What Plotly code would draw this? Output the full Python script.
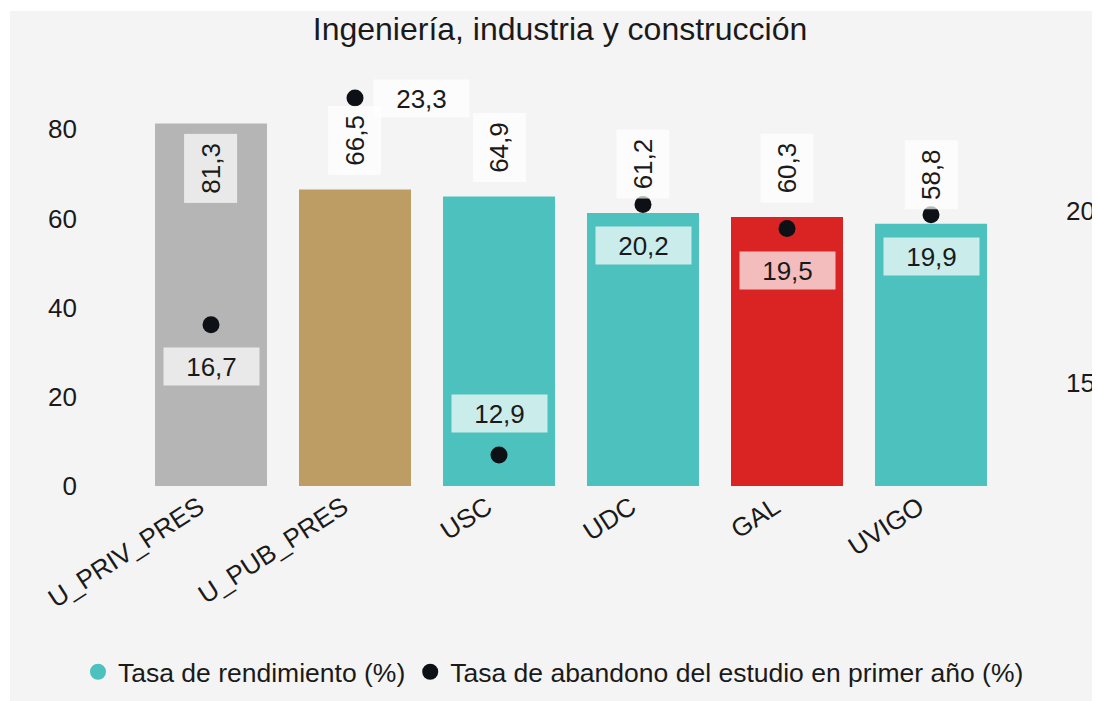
import plotly.graph_objects as go

# ---- data ----
categories = ["U_PRIV_PRES", "U_PUB_PRES", "USC", "UDC", "GAL", "UVIGO"]
rendimiento = [81.3, 66.5, 64.9, 61.2, 60.3, 58.8]
abandono = [16.7, 23.3, 12.9, 20.2, 19.5, 19.9]
bar_colors = ["#b5b5b5", "#be9d65", "#4dc1bd", "#4dc1bd", "#da2323", "#4dc1bd"]
series_names = ["Tasa de rendimiento (%)", "Tasa de abandono del estudio en primer año (%)"]
title_text = "Ingeniería, industria y construcción"

# label placement styles
bar_label_pos = ["inside", "above", "above", "above", "above", "above"]
dot_label_pos = ["below", "right", "above", "below", "below", "below"]

TEAL = "#4dc1bd"
DOT = "#0d1015"
TXT = "#1a1a1a"
BG = "#f4f4f4"
FONT = "Liberation Sans, Arial, sans-serif"
W, H = 1100, 701
ML, MR, MT, MB = 131, 105, 62, 223
PW, PH = W - ML - MR, H - MT - MB
LEFT_PPU = 4.46
RIGHT_PPU = 34.33


def fmt(v):
    return f"{v:.1f}".replace(".", ",")


def px_x(px):
    return (px - ML) / PW


def px_y(py):
    return (MT + PH - py) / PH


fig = go.Figure()
fig.add_trace(go.Bar(
    x=categories, y=rendimiento, marker=dict(color=bar_colors, line=dict(width=0)),
    showlegend=False, name=series_names[0], hoverinfo="skip",
))
fig.add_trace(go.Scatter(
    x=[None], y=[None], mode="markers", name=series_names[0],
    marker=dict(color=TEAL, size=18, symbol="circle"), showlegend=True,
))
fig.add_trace(go.Scatter(
    x=categories, y=abandono, mode="markers", name=series_names[1], yaxis="y2",
    marker=dict(color=DOT, size=17, symbol="circle", line=dict(width=0)),
))

annotations = []
for c, v, p in zip(categories, rendimiento, bar_label_pos):
    a = dict(x=c, y=v, xref="x", yref="y", text=fmt(v), showarrow=False,
             textangle=-90, font=dict(size=26, color=TXT, family=FONT),
             bgcolor="rgba(255,255,255,0.7)", borderpad=4, width=60, height=44,
             xanchor="center")
    if p == "inside":
        a.update(yanchor="top", yshift=-10)
    else:
        a.update(yanchor="bottom", yshift=14)
    annotations.append(a)

for c, v, p in zip(categories, abandono, dot_label_pos):
    a = dict(x=c, y=v, xref="x", yref="y2", text=fmt(v), showarrow=False,
             font=dict(size=26, color=TXT, family=FONT),
             bgcolor="rgba(255,255,255,0.7)", borderpad=4, width=87, height=29)
    if p == "below":
        a.update(xanchor="center", yanchor="top", yshift=-22)
    elif p == "above":
        a.update(xanchor="center", yanchor="bottom", yshift=22)
    else:
        a.update(xanchor="left", yanchor="middle", xshift=18)
    annotations.append(a)

# thin white border at the top/left of the grey panel
shapes = [
    dict(type="rect", xref="paper", yref="paper", layer="below",
         x0=px_x(-20), x1=px_x(2), y0=px_y(H + 20), y1=px_y(-20),
         fillcolor="white", line=dict(width=0)),
    dict(type="rect", xref="paper", yref="paper", layer="below",
         x0=px_x(-20), x1=px_x(W + 20), y0=px_y(3), y1=px_y(-20),
         fillcolor="white", line=dict(width=0)),
]

fig.update_layout(
    width=W, height=H,
    margin=dict(l=ML, r=MR, t=MT, b=MB, pad=0, autoexpand=False),
    paper_bgcolor=BG, plot_bgcolor="rgba(0,0,0,0)",
    font=dict(family=FONT, size=26, color=TXT),
    title=dict(text=title_text, x=552 / W, xref="container", xanchor="center",
               y=1 - 20.5 / H, yref="container", yanchor="middle",
               font=dict(size=32, color=TXT, family=FONT)),
    bargap=1 - 112 / 144,
    xaxis=dict(showgrid=False, zeroline=False, showline=False, ticks="",
               tickangle=-33, ticklabelshift=-12, automargin=False,
               tickfont=dict(size=26, color=TXT)),
    yaxis=dict(range=[0, PH / LEFT_PPU], dtick=20, showgrid=False, zeroline=False,
               showline=False, ticks="", ticklabelstandoff=61, automargin=False,
               tickfont=dict(size=26, color=TXT)),
    yaxis2=dict(range=[12, 12 + PH / RIGHT_PPU], overlaying="y", side="right",
                tick0=0, dtick=5, showgrid=False, zeroline=False, showline=False,
                ticks="", ticklabelstandoff=62, automargin=False,
                tickfont=dict(size=26, color=TXT)),
    legend=dict(orientation="h", xref="paper", yref="paper",
                x=px_x(70), xanchor="left", y=px_y(664), yanchor="middle",
                font=dict(size=26.5, color=TXT), itemwidth=30,
                bgcolor="rgba(0,0,0,0)"),
    annotations=annotations,
    shapes=shapes,
)

fig.write_html("out.html")
